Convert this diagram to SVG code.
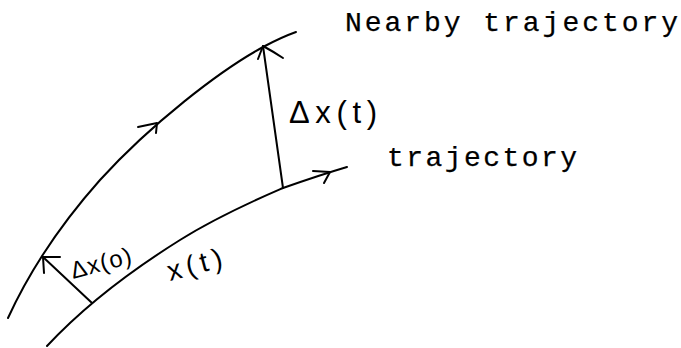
<svg xmlns="http://www.w3.org/2000/svg" width="681" height="348" viewBox="0 0 681 348">
<style>
.c{fill:none;stroke:#000;stroke-width:2;stroke-linecap:round;stroke-linejoin:round}
.m{font-family:"Liberation Mono",monospace;font-size:28px;fill:#000;stroke:#000;stroke-width:0.25}
.s{font-family:"Liberation Sans",sans-serif;fill:#000}
</style>
<rect width="681" height="348" fill="#fff"/>
<g id="connectors">
<path id="nearby" class="c" d="M8,318 C30,270 60,225 100,180 C150,125 220,70 265,46 Q282,37 296,32"/>
<path class="c" d="M138,127 L157,123 L156,133"/>
<path id="traj" class="c" d="M47,346 C90,300 140,265 180,240 C220,215 260,198 283,188 Q320,175 347,167"/>
<path class="c" d="M313,171 L330,172 L324,183"/>
<path id="dxt" class="c" d="M283,188 L263,46"/>
<path class="c" d="M258,59 L263,46 Q274,52 283,58"/>
<path id="dx0" class="c" d="M92,303 L43,257"/>
<path class="c" d="M44,273 L43,257 L60,257"/>
</g>
<g id="label-nearby"><text class="m" x="345" y="31" textLength="333" lengthAdjust="spacing">Nearby trajectory</text></g>
<g id="label-traj"><text class="m" x="387" y="166" textLength="190" lengthAdjust="spacing">trajectory</text></g>
<g id="label-dxt"><text class="s" x="289" y="123" font-size="31" textLength="88" lengthAdjust="spacing">Δx(t)</text></g>
<g id="label-dx0"><text class="s" x="73" y="279" font-size="24" textLength="62" lengthAdjust="spacing" transform="rotate(-15 73 279)">Δx(o)</text></g>
<g id="label-xt"><text class="s" x="170" y="281" font-size="28" textLength="56" lengthAdjust="spacing" transform="rotate(-15 170 281)">x(t)</text></g>
</svg>
